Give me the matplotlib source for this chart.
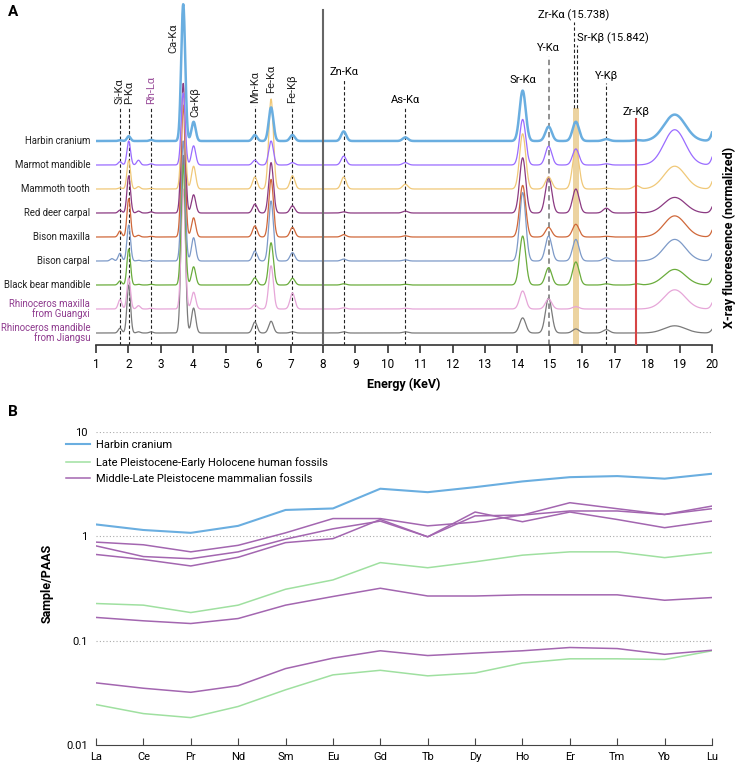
import numpy as np
import matplotlib
matplotlib.use("Agg")
import matplotlib.pyplot as plt

plt.rcParams['font.family'] = ['Roboto', 'DejaVu Sans']

# ---------------- panel A data: XRF spectra as peak tables ----------------
samples = ["Harbin cranium", "Marmot mandible", "Mammoth tooth", "Red deer carpal",
           "Bison maxilla", "Bison carpal", "Black bear mandible",
           "Rhinoceros maxilla\nfrom Guangxi", "Rhinoceros mandible\nfrom Jiangsu"]
sample_colors = ["#6aaee0", "#9a6cff", "#f0c878", "#8b3a82", "#d0683a",
                 "#7d9ac8", "#6aac3c", "#e6a6d8", "#7a7a7a"]
label_colors = ["#222222"] * 7 + ["#8e3a8e", "#8e3a8e"]
offsets = [8, 7, 6, 5, 4, 3, 2, 1, 0]

# emission lines (keV) and their widths (keV, sigma)
peak_energy = [1.49, 1.74, 2.01, 2.31, 2.70, 3.69, 4.01, 5.90, 6.40, 7.06, 8.64,
               10.54, 14.16, 14.96, 15.80, 16.74, 17.67, 18.85, 20.2]
peak_sigma = [0.055, 0.055, 0.055, 0.055, 0.055, 0.062, 0.065, 0.07, 0.072, 0.074, 0.078,
              0.082, 0.095, 0.098, 0.1, 0.1, 0.1, 0.33, 0.12]
# peak heights per sample (units of one trace spacing)
peak_height = [
    [0, 0.03, 0.2, 0, 0.05, 5.7, 0.8, 0.25, 1.4, 0.25, 0.4, 0.15, 2.1, 0.6, 0.8, 0.08, 0.04, 1.1, 1.4],
    [0, 0.14, 1.0, 0.2, 0.05, 3.0, 0.8, 0.2, 1.0, 0.1, 0.37, 0.1, 1.9, 0.78, 0.67, 0.05, 0.0, 1.47, 1.3],
    [0, 0.05, 1.2, 0.1, 0.03, 4.0, 0.95, 0.5, 3.75, 0.55, 0.5, 0.2, 2.3, 0.5, 1.67, 0.03, 0.14, 0.95, 1.2],
    [0, 0.12, 1.55, 0.08, 0.05, 5.4, 0.76, 0.37, 2.1, 0.3, 0.05, 0.08, 2.3, 1.5, 1.0, 0.2, 0.03, 0.65, 1.0],
    [0, 0.25, 1.6, 0.07, 0.03, 5.5, 0.8, 0.46, 2.4, 0.4, 0.1, 0.05, 2.15, 0.4, 0.53, 0.03, 0.0, 0.88, 1.1],
    [0.1, 0.32, 1.5, 0.03, 0.03, 5.0, 0.97, 0.42, 2.5, 0.35, 0.08, 0.05, 2.85, 1.04, 0.9, 0.14, 0.0, 0.9, 1.2],
    [0, 0.17, 1.5, 0.03, 0.03, 5.0, 0.76, 0.3, 1.76, 0.28, 0.05, 0.03, 2.04, 0.72, 0.96, 0.05, 0.05, 0.65, 1.1],
    [0, 0.39, 1.3, 0.14, 0.03, 5.0, 0.7, 0.18, 1.8, 0.67, 0.05, 0.03, 0.75, 0.42, 0.1, 0.0, 0.0, 0.8, 1.0],
    [0, 0.2, 2.0, 0.05, 0.05, 7.4, 1.04, 0.46, 0.49, 0.05, 0.05, 0.05, 0.63, 1.46, 0.17, 0.14, 0.0, 0.3, 0.6],
]

# ---------------- panel B data: REE patterns ----------------
ree = ["La", "Ce", "Pr", "Nd", "Sm", "Eu", "Gd", "Tb", "Dy", "Ho", "Er", "Tm", "Yb", "Lu"]
harbin = [1.30, 1.15, 1.08, 1.26, 1.79, 1.85, 2.86, 2.65, 2.96, 3.36, 3.69, 3.78, 3.57, 3.98]
human = [
    [0.227, 0.219, 0.186, 0.219, 0.311, 0.382, 0.56, 0.50, 0.57, 0.66, 0.71, 0.71, 0.625, 0.70],
    [0.0244, 0.020, 0.0183, 0.0234, 0.0338, 0.047, 0.052, 0.046, 0.049, 0.061, 0.067, 0.067, 0.066, 0.080],
]
mammal = [
    [0.88, 0.83, 0.71, 0.82, 1.08, 1.48, 1.48, 1.26, 1.37, 1.60, 1.75, 1.75, 1.62, 1.84],
    [0.81, 0.64, 0.61, 0.71, 0.94, 1.18, 1.40, 0.99, 1.57, 1.60, 2.10, 1.84, 1.62, 1.95],
    [0.67, 0.60, 0.52, 0.63, 0.87, 0.95, 1.45, 0.99, 1.71, 1.38, 1.71, 1.45, 1.21, 1.40],
    [0.167, 0.155, 0.146, 0.163, 0.219, 0.265, 0.318, 0.268, 0.268, 0.275, 0.275, 0.275, 0.244, 0.259],
    [0.0394, 0.035, 0.032, 0.037, 0.054, 0.068, 0.080, 0.072, 0.076, 0.080, 0.086, 0.084, 0.074, 0.081],
]

W, H = 736, 762
fig = plt.figure(figsize=(W / 100, H / 100), dpi=100)


def fx(px):
    return px / W


def fy(py):
    return 1 - py / H


# ================= panel A =================
axA = fig.add_axes([fx(96), fy(345), fx(712 - 96), 345 / H])
axA.set_xlim(1, 20)
axA.set_ylim(-0.5, 13.875)

E = np.linspace(1, 20, 4000)
for i in range(len(samples) - 1, -1, -1):
    y = np.zeros_like(E)
    for e0, s, h in zip(peak_energy, peak_sigma, peak_height[i]):
        y += h * np.exp(-0.5 * ((E - e0) / s) ** 2)
    axA.plot(E, y + offsets[i], color=sample_colors[i],
             lw=1.8 if i == 0 else 0.9, zorder=4 if i == 0 else 3)
    axA.text(0.815, offsets[i], samples[i], ha='right', va='center', fontsize=6.9,
             color=label_colors[i], multialignment='right', linespacing=1.0,
             clip_on=False)

dash = dict(color='#222222', lw=0.8, ls=(0, (3, 2)), zorder=2)
# rotated labels (label x, bottom of text, label, colour, line energy or None)
rot_lines = [(1.74, 9.46, "Si-Kα", '#222222', 1.74),
             (2.01, 9.46, "P-Kα", '#222222', 2.01),
             (2.70, 9.46, "Rh-Lα", '#9b4f9b', 2.70),
             (3.40, 11.58, "Ca-Kα", '#222222', None),
             (4.08, 8.9, "Ca-Kβ", '#222222', None),
             (5.90, 9.5, "Mn-Kα", '#222222', 5.90),
             (6.40, 9.92, "Fe-Kα", '#222222', None),
             (7.06, 9.5, "Fe-Kβ", '#222222', 7.06)]
for xl, yb, lab, col, e0 in rot_lines:
    axA.text(xl, yb + 0.1, lab, rotation=90, ha='center', va='bottom', fontsize=8, color=col)
    if e0 is not None:
        axA.plot([e0, e0], [-0.5, yb - 0.05], **dash)

hor_lines = [(8.64, 10.875, "Zn-Kα"), (10.54, 9.71, "As-Kα"), (14.96, 11.875, "Y-Kα"),
             (16.74, 10.7, "Y-Kβ")]
for e0, yc, lab in hor_lines:
    axA.text(e0, yc, lab, ha='center', va='center', fontsize=8)
    if lab == "Y-Kα":
        axA.plot([e0, e0], [-0.5, yc - 0.32], color='#888888', lw=1.3, ls=(0, (3, 2)), zorder=2)
    else:
        axA.plot([e0, e0], [-0.5, yc - 0.3], **dash)

axA.text(14.16, 10.54, "Sr-Kα", ha='center', va='center', fontsize=8)
axA.text(15.738, 13.25, "Zr-Kα (15.738)", ha='center', va='center', fontsize=8)
axA.plot([15.738, 15.738], [9.375, 12.95], **dash)
axA.text(15.842, 12.29, "Sr-Kβ (15.842)", ha='left', va='center', fontsize=8)
axA.plot([15.842, 15.842], [9.375, 12.0], **dash)
axA.fill_between([15.70, 15.90], -0.5, 9.375, color='#ecd3a0', lw=0, zorder=1)
axA.text(17.67, 9.21, "Zr-Kβ", ha='center', va='center', fontsize=8)
axA.plot([17.67, 17.67], [-0.5, 8.9], color='#d64545', lw=1.5, zorder=5)
axA.plot([8, 8], [-0.5, 13.45], color='#666666', lw=1.5, zorder=5)

for side in ['left', 'right', 'top']:
    axA.spines[side].set_visible(False)
axA.spines['bottom'].set_linewidth(1.2)
axA.spines['bottom'].set_color('#333333')
axA.set_yticks([])
axA.set_xticks(range(1, 21))
axA.tick_params(axis='x', direction='out', length=6, width=1.2, color='#333333',
                labelsize=8.5, pad=3)
axA.set_xlabel("Energy (KeV)", fontsize=9, fontweight='bold', labelpad=5)
fig.text(fx(729), fy(237), "X-ray fluorescence (normalized)", rotation=90,
         ha='center', va='center', fontsize=9, fontweight='bold')
fig.text(fx(8), fy(12), "A", fontsize=11, fontweight='bold', ha='left', va='center')

# ================= panel B =================
axB = fig.add_axes([fx(96), fy(745), fx(712 - 96), (745 - 432) / H])
x = np.arange(len(ree))
for row in human:
    axB.plot(x, row, color='#9fe0a0', lw=1.1)
for row in mammal:
    axB.plot(x, row, color='#a366b0', lw=1.1)
axB.plot(x, harbin, color='#6aaee0', lw=1.5)
axB.set_yscale('log')
axB.set_ylim(0.01, 10)
axB.set_xlim(0, len(ree) - 1)
axB.set_xticks(x)
axB.set_xticklabels(ree)
axB.set_yticks([0.01, 0.1, 1, 10])
axB.set_yticklabels(["0.01", "0.1", "1", "10"])
axB.minorticks_off()
for v in [0.1, 1, 10]:
    axB.axhline(v, color='#aaaaaa', lw=0.8, ls=(0, (1, 2)), zorder=0)
for side in ['left', 'right', 'top']:
    axB.spines[side].set_visible(False)
axB.spines['bottom'].set_color('#444444')
axB.tick_params(axis='x', direction='in', length=5, color='#444444', labelsize=8, pad=5)
axB.tick_params(axis='y', length=0, labelsize=8, pad=6)
fig.text(fx(47), fy(583), "Sample/PAAS", rotation=90, ha='center', va='center',
         fontsize=9, fontweight='bold')
fig.text(fx(8), fy(412), "B", fontsize=11, fontweight='bold', ha='left', va='center')

handles = [plt.Line2D([], [], color='#6aaee0', lw=1.5),
           plt.Line2D([], [], color='#9fe0a0', lw=1.1),
           plt.Line2D([], [], color='#a366b0', lw=1.1)]
fig.legend(handles, ["Harbin cranium", "Late Pleistocene-Early Holocene human fossils",
                     "Middle-Late Pleistocene mammalian fossils"],
           loc='upper left', bbox_to_anchor=(fx(66), fy(440)), frameon=False,
           fontsize=8, handlelength=2.2, handletextpad=0.5, labelspacing=0.6,
           borderpad=0, borderaxespad=0)

fig.savefig("out.png", dpi=100)
